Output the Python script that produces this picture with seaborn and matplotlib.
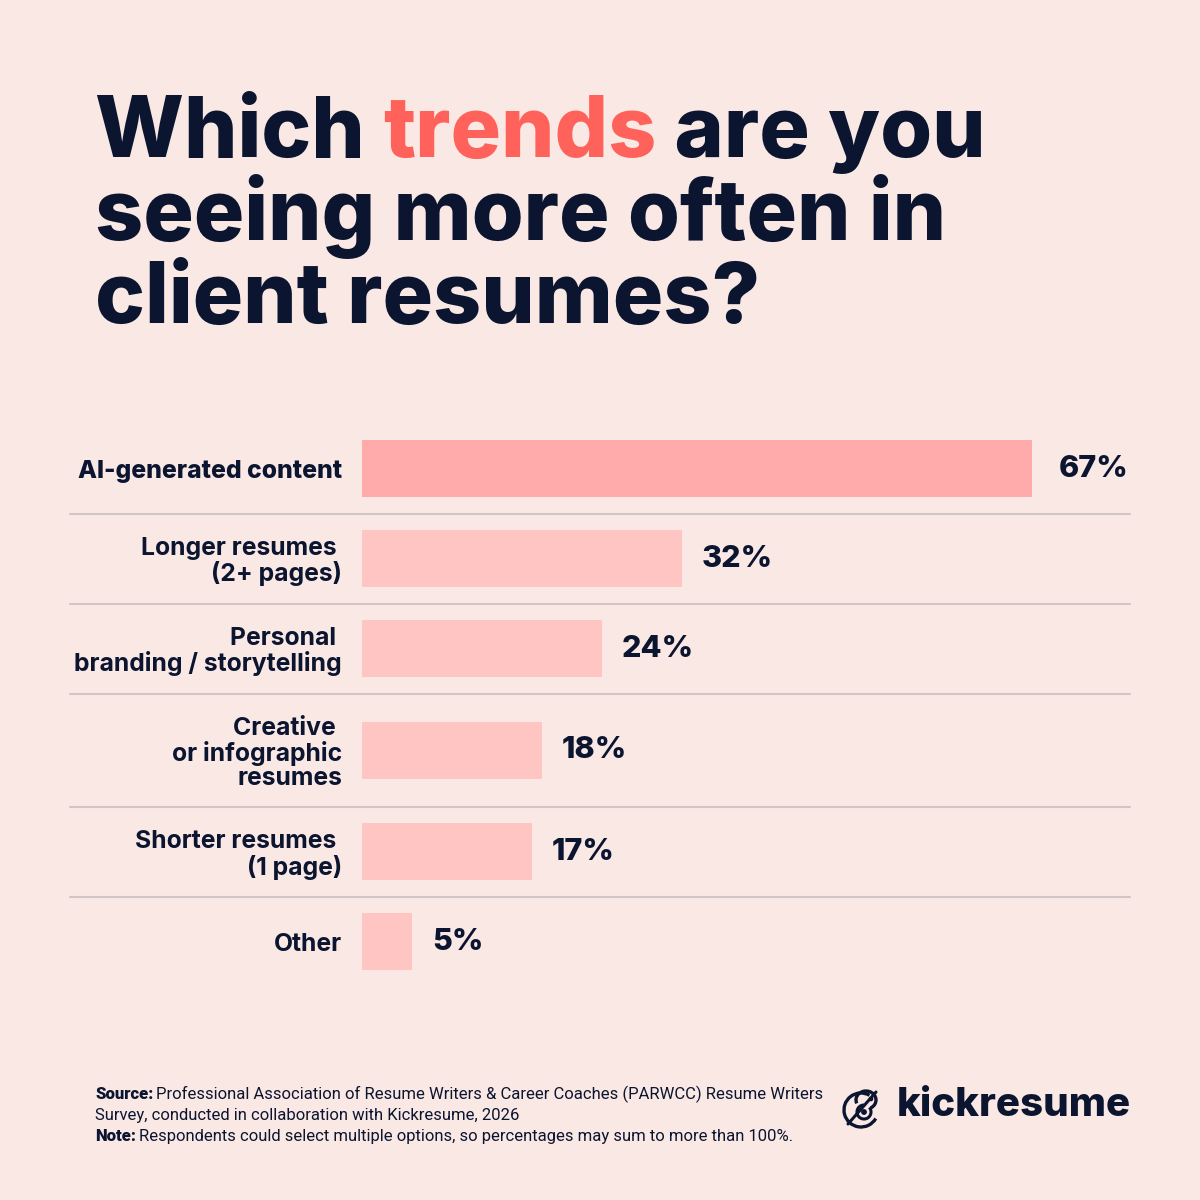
import numpy as np
import pandas as pd
import matplotlib
matplotlib.use("Agg")
import matplotlib.pyplot as plt
from matplotlib.patches import Arc, Circle
import seaborn as sns

# --- data ---
categories = ["AI-generated content", "Longer resumes \n(2+ pages)",
              "Personal \nbranding / storytelling", "Creative \nor infographic\nresumes",
              "Shorter resumes \n(1 page)", "Other"]
values = [67, 32, 24, 18, 17, 5]

title_parts = [("Which ", "navy"), ("trends", "coral"), (" are you", "navy")]
title_lines = ["seeing more often in", "client resumes?"]
source_text = ("Professional Association of Resume Writers & Career Coaches (PARWCC) Resume Writers\n"
               "Survey, conducted in collaboration with Kickresume, 2026")
note_text = "Respondents could select multiple options, so percentages may sum to more than 100%."
brand = "kickresume"

# --- style ---
BG = "#FAE8E4"
NAVY = "#0B1530"
CORAL = "#FF625A"
BAR_TOP = "#FFABAB"
BAR = "#FFC5C3"
GRID = "#CFC6C5"
colors = {"navy": NAVY, "coral": CORAL}

sns.set_style("white")
plt.rcParams["font.family"] = ["Inter", "DejaVu Sans"]

W = H = 1200
fig = plt.figure(figsize=(12, 12), dpi=100, facecolor=BG)

# row heights depend on how many lines the label has
n_lines = [c.count("\n") + 1 for c in categories]
heights = [1.26 if n > 2 else 1.0 for n in n_lines]
edges = np.concatenate([[0], np.cumsum(heights)])
centers = (edges[:-1] + edges[1:]) / 2
total = edges[-1]

row_px = 90
ax_left, ax_right, ax_top = 362, 1130, 423.5
ax_h = total * row_px
ax = fig.add_axes([ax_left / W, 1 - (ax_top + ax_h) / H, (ax_right - ax_left) / W, ax_h / H])
ax.set_facecolor(BG)

px_per_pct = 10
xmax = (ax_right - ax_left) / px_per_pct

df = pd.DataFrame({"category": categories, "value": values, "pos": centers})
top = df["value"].max()
palette = {c: (BAR_TOP if v == top else BAR) for c, v in zip(categories, values)}

sns.barplot(data=df, x="value", y="pos", hue="category", palette=palette, orient="h",
            native_scale=True, dodge=False, legend=False, width=57 / row_px,
            saturation=1, linewidth=0, ax=ax)

ax.set_xlim(0, xmax)
ax.set_ylim(total, 0)
ax.set_xticks([])
ax.set_yticks(centers)
ax.set_yticklabels(categories)
ax.tick_params(axis="y", length=0, pad=20 * 0.72)
for lab, v in zip(ax.get_yticklabels(), values):
    lab.set_fontsize(17.8)
    lab.set_color(NAVY)
    lab.set_fontweight("heavy" if v == top else "bold")
    lab.set_linespacing(1.06)
ax.set_xlabel("")
ax.set_ylabel("")
for s in ax.spines.values():
    s.set_visible(False)

# separators between rows
line_x0 = (70 - ax_left) / (ax_right - ax_left)
for e in edges[1:-1]:
    ax.plot([line_x0, 1], [e, e], color=GRID, lw=1.5, transform=ax.get_yaxis_transform(),
            clip_on=False)

# value labels
for v, y in zip(values, centers):
    if v == top:
        ax.text(xmax - 0.2, y, f"{v}%", ha="right", va="center", fontsize=22,
                fontweight="heavy", color=NAVY)
    else:
        ax.text(v + 20 / px_per_pct, y, f"{v}%", ha="left", va="center", fontsize=22,
                fontweight="heavy", color=NAVY)

# --- title ---
renderer = fig.canvas.get_renderer()
tsize = 60.5
x = 95 / W
y0 = 1 - 157 / H
for txt, c in title_parts:
    t = fig.text(x, y0, txt, fontsize=tsize, fontweight="heavy", color=colors[c],
                 ha="left", va="baseline")
    bb = t.get_window_extent(renderer)
    x = bb.x1 / W
for i, line in enumerate(title_lines):
    fig.text(95 / W, 1 - (157 + 83 * (i + 1)) / H, line, fontsize=tsize, fontweight="heavy",
             color=NAVY, ha="left", va="baseline")

# --- footer ---
fsize = 12
ffam = ["Roboto", "DejaVu Sans"]
fx = 95 / W
t = fig.text(fx, 1 - 1099 / H, "Source:", fontsize=fsize, fontweight="heavy", color=NAVY,
             family=ffam, va="baseline")
bb = t.get_window_extent(renderer)
fig.text(bb.x1 / W + 3 / W, 1 - 1099 / H, source_text.split("\n")[0], fontsize=fsize,
         color=NAVY, family=ffam, va="baseline")
fig.text(fx, 1 - 1120 / H, source_text.split("\n")[1], fontsize=fsize, color=NAVY,
         family=ffam, va="baseline")
t = fig.text(fx, 1 - 1141 / H, "Note:", fontsize=fsize, fontweight="heavy", color=NAVY,
             family=ffam, va="baseline")
bb = t.get_window_extent(renderer)
fig.text(bb.x1 / W + 3 / W, 1 - 1141 / H, note_text, fontsize=fsize, color=NAVY,
         family=ffam, va="baseline")

# --- logo ---
fig.text(897 / W, 1 - 1116 / H, brand, fontsize=29, fontweight="heavy", color=NAVY,
         ha="left", va="baseline")
lax = fig.add_axes([840 / W, 1 - 1132 / H, 46 / W, 50 / H])
lax.set_xlim(0, 46)
lax.set_ylim(0, 50)
lax.axis("off")
lax.add_patch(Arc((21, 22), 34, 34, theta1=60, theta2=330, color=NAVY, lw=2.4))
lax.add_patch(Arc((26, 32), 20, 18, theta1=-60, theta2=200, color=NAVY, lw=2.4))
lax.add_patch(Arc((24, 20), 14, 14, theta1=90, theta2=400, color=NAVY, lw=2.2))
lax.add_patch(Circle((24, 20), 2.2, color=NAVY))
lax.plot([8, 36], [8, 40], color=NAVY, lw=2.2)
lax.add_patch(Circle((31, 33), 1.6, color=NAVY))

fig.savefig("out.png", dpi=100, facecolor=BG)
